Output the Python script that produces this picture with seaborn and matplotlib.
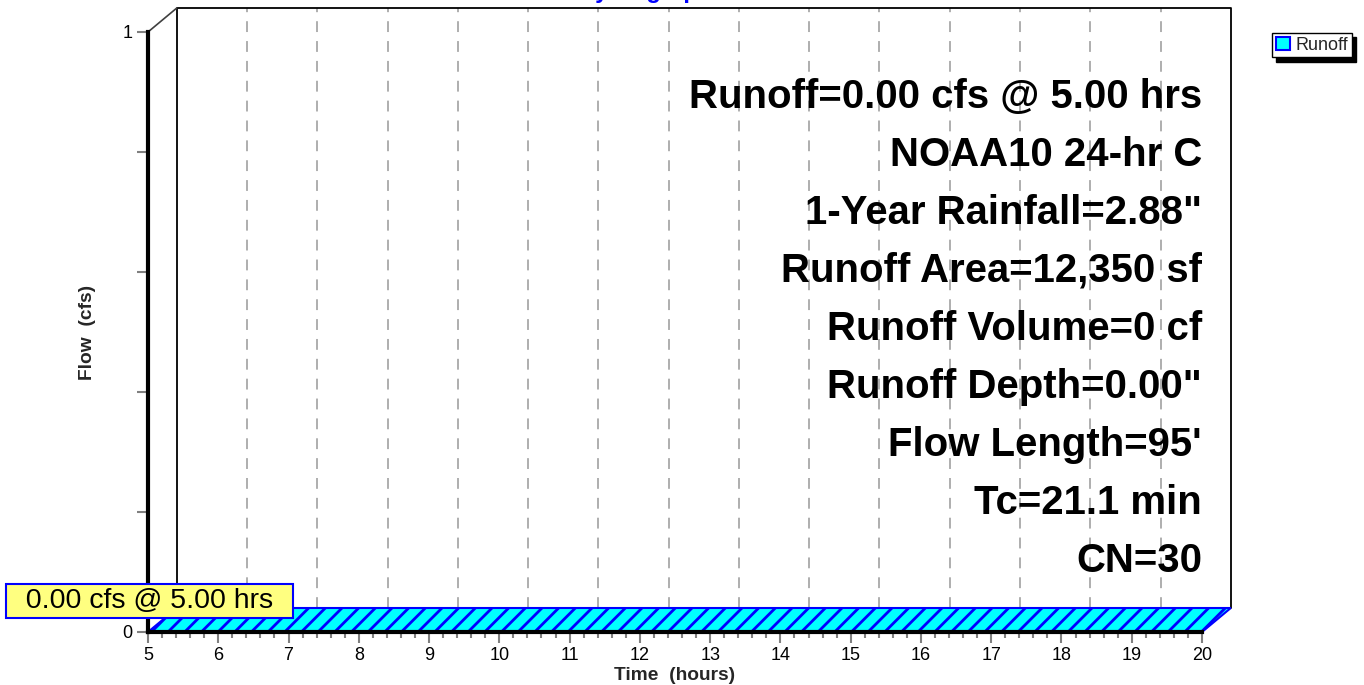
import pandas as pd
import seaborn as sns
import matplotlib.pyplot as plt
from matplotlib.patches import Patch

# hydrograph (runoff is zero everywhere)
time_hr = [5.0, 6.0, 7.0, 8.0, 9.0, 10.0, 11.0, 12.0,
           13.0, 14.0, 15.0, 16.0, 17.0, 18.0, 19.0, 20.0]
flow_cfs = [0.00, 0.00, 0.00, 0.00, 0.00, 0.00, 0.00, 0.00,
            0.00, 0.00, 0.00, 0.00, 0.00, 0.00, 0.00, 0.00]
x_ticks = [5, 6, 7, 8, 9, 10, 11, 12, 13, 14, 15, 16, 17, 18, 19, 20]
y_ticks = [0, 1]
y_minor = [0.2, 0.4, 0.6, 0.8]
peak_time = 5.00
peak_flow = 0.00
peak_label = "0.00 cfs @ 5.00 hrs"
info_lines = [
    "Runoff=0.00 cfs @ 5.00 hrs",
    "NOAA10 24-hr C",
    "1-Year Rainfall=2.88\"",
    "Runoff Area=12,350 sf",
    "Runoff Volume=0 cf",
    "Runoff Depth=0.00\"",
    "Flow Length=95'",
    "Tc=21.1 min",
    "CN=30",
]

df = pd.DataFrame({"time": time_hr, "flow": flow_cfs})

sns.set_theme(style="white")
plt.rcParams["font.family"] = ["Liberation Sans", "DejaVu Sans"]
plt.rcParams["hatch.linewidth"] = 2.0

fig = plt.figure(figsize=(13.64, 6.85), dpi=100)
ax = fig.add_axes([148 / 1364, 1 - 632 / 685, 1054 / 1364, 600 / 685])
ax.set_xlim(5, 20)
ax.set_ylim(0, 1)

# pseudo-3d depth, in data units
dx, dy = 0.41, 0.04

# back wall: dashed vertical grid + black frame
grid_x = [t + dx for t in x_ticks[1:-1]]
ax.vlines(grid_x, dy, 1 + dy, colors="#a8a8a8", linestyles=(0, (6, 5)),
          linewidth=1.3, clip_on=False, zorder=1)
ax.plot([5 + dx, 5 + dx, 20 + dx, 20 + dx], [dy, 1 + dy, 1 + dy, dy],
        color="black", linewidth=1.3, clip_on=False, zorder=2)
ax.plot([5, 5 + dx], [1, 1 + dy], color="#404040", linewidth=1.2,
        clip_on=False, zorder=2)

# hydrograph top face (extruded toward the back wall)
xs = list(df["time"]) + [t + dx for t in df["time"][::-1]]
ys = list(df["flow"]) + [q + dy for q in df["flow"][::-1]]
ax.fill(xs, ys, facecolor="#00ffff", edgecolor="#0000ff", hatch="//",
        linewidth=1.5, clip_on=False, zorder=3)
ax.fill_between(df["time"], 0, df["flow"], color="#00ffff", zorder=3)
sns.lineplot(data=df, x="time", y="flow", color="#0000ff", linewidth=1.5,
             ax=ax, zorder=4, clip_on=False)

# front axes
for side in ("top", "right"):
    ax.spines[side].set_visible(False)
for side in ("left", "bottom"):
    ax.spines[side].set_color("black")
    ax.spines[side].set_linewidth(3)
    ax.spines[side].set_zorder(5)

ax.set_xticks(x_ticks)
ax.set_xticks([t + k * 0.2 for t in x_ticks[:-1] for k in range(1, 5)], minor=True)
ax.set_yticks(y_ticks)
ax.set_yticks(y_minor, minor=True)
ax.set_yticklabels([str(v) for v in y_ticks])
ax.tick_params(axis="both", which="major", bottom=True, left=True,
               direction="out", length=8, width=1.5, color="#808080",
               labelsize=13, labelcolor="black", pad=3)
ax.tick_params(axis="x", which="minor", bottom=True, direction="out",
               length=4, width=1.5, color="#808080")
ax.tick_params(axis="y", which="minor", left=True, direction="out",
               length=8, width=1.5, color="#808080")

ax.set_xlabel("Time  (hours)", fontsize=13.8, fontweight="bold", va="center")
ax.set_ylabel("Flow  (cfs)", fontsize=13.8, fontweight="bold", va="center")
ax.xaxis.set_label_coords(0.5, -43 / 600)
ax.yaxis.set_label_coords(-60 / 1054, 0.5)

# summary text block
for i, line in enumerate(info_lines):
    ax.text(1.0, (632 - 97 - 58 * i) / 600, line, transform=ax.transAxes,
            ha="right", va="center", fontsize=28.9, fontweight="bold",
            color="black", zorder=6)

# peak label
ax.annotate("  " + peak_label + "  ", xy=(peak_time, peak_flow),
            xytext=(1.5, 31), textcoords="offset pixels",
            ha="center", va="center", fontsize=20.5, color="black",
            bbox=dict(boxstyle="square,pad=0.14", facecolor="#ffff80",
                      edgecolor="#0000ff", linewidth=1.5),
            annotation_clip=False, zorder=7)

# title (mostly above the image edge)
fig.text(646 / 1364, (685 + 2) / 685, "Hydrograph", ha="center",
         va="baseline", fontsize=17, fontweight="bold", color="#0000ff")

# legend
handle = Patch(facecolor="#00ffff", edgecolor="#0000ff", linewidth=1.5)
fig.legend([handle], ["Runoff"], loc="upper right",
           bbox_to_anchor=(1352 / 1364, 1 - 33 / 685),
           bbox_transform=fig.transFigure, borderaxespad=0,
           fontsize=13, frameon=True, fancybox=False, edgecolor="black",
           framealpha=1, handlelength=0.8, handleheight=0.8,
           handletextpad=0.3, borderpad=0.2,
           shadow={"ox": 3, "oy": -3, "color": "black", "alpha": 1})

fig.savefig("out.png", dpi=100)
